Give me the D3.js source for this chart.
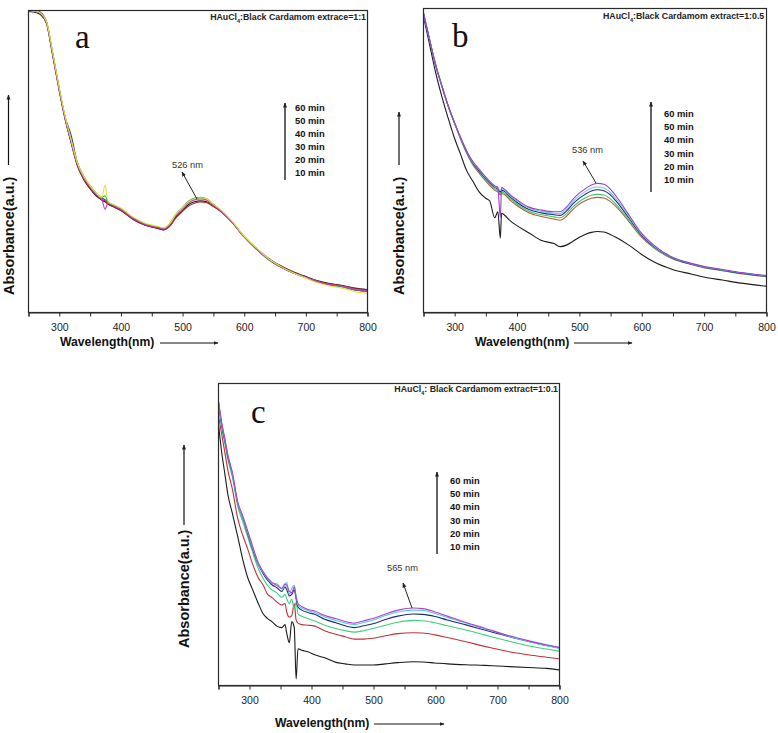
<!DOCTYPE html>
<html><head><meta charset="utf-8">
<script src="https://cdn.jsdelivr.net/npm/d3@7"></script>
<style>body{margin:0;background:#fff}svg{display:block}</style>
</head><body>
<svg id="fig" width="778" height="733"></svg>
<script>
// ---------------- DATA ----------------
const timeLabels = ["60 min","50 min","40 min","30 min","20 min","10 min"];
const xTickValues = [250,300,350,400,450,500,550,600,650,700,750,800];
const xTickLabels = [300,400,500,600,700,800];

// Panel a : HAuCl4 : extract = 1:1
const wlA = [250,265,270,280,290,300,310,320,330,340,350,360,370,375,380,390,400,420,440,460,470,480,490,500,510,520,530,540,550,560,580,600,620,640,660,680,700,720,740,760,780,800];
const a10 = [0.995,0.99,0.985,0.955,0.85,0.74,0.64,0.56,0.485,0.44,0.41,0.385,0.37,0.365,0.357,0.347,0.337,0.307,0.287,0.277,0.272,0.285,0.315,0.335,0.355,0.365,0.368,0.365,0.352,0.338,0.30,0.252,0.212,0.178,0.153,0.133,0.118,0.103,0.094,0.088,0.079,0.074];
const a20 = [1.00,0.995,0.99,0.958,0.852,0.742,0.642,0.562,0.487,0.443,0.412,0.388,0.372,0.368,0.358,0.348,0.338,0.308,0.288,0.278,0.272,0.284,0.312,0.332,0.35,0.36,0.364,0.362,0.35,0.337,0.299,0.25,0.21,0.176,0.152,0.132,0.117,0.102,0.093,0.087,0.078,0.073];
const a30 = [1.00,0.998,0.993,0.962,0.858,0.748,0.648,0.585,0.495,0.447,0.417,0.392,0.377,0.372,0.362,0.352,0.342,0.312,0.291,0.281,0.276,0.292,0.322,0.343,0.363,0.374,0.377,0.373,0.357,0.341,0.30,0.25,0.209,0.174,0.149,0.129,0.114,0.099,0.089,0.083,0.073,0.068];
const a40 = [1.00,0.995,0.99,0.96,0.856,0.746,0.646,0.567,0.495,0.452,0.42,0.395,0.38,0.385,0.362,0.352,0.342,0.312,0.292,0.282,0.277,0.293,0.324,0.345,0.366,0.377,0.38,0.375,0.358,0.342,0.301,0.251,0.21,0.175,0.15,0.13,0.115,0.10,0.09,0.084,0.074,0.069];
const a50 = [1.00,0.995,0.99,0.96,0.855,0.745,0.645,0.565,0.49,0.445,0.416,0.392,0.372,0.34,0.362,0.351,0.341,0.311,0.29,0.28,0.275,0.29,0.32,0.341,0.361,0.371,0.374,0.37,0.355,0.34,0.30,0.25,0.21,0.175,0.15,0.13,0.115,0.10,0.09,0.085,0.075,0.07];
const a60 = [1.00,0.995,0.99,0.962,0.86,0.75,0.65,0.57,0.495,0.45,0.42,0.395,0.38,0.42,0.365,0.355,0.345,0.315,0.294,0.284,0.279,0.293,0.323,0.344,0.364,0.375,0.378,0.374,0.358,0.343,0.303,0.253,0.213,0.177,0.151,0.13,0.113,0.097,0.086,0.079,0.068,0.062];

// Panel b : extract = 1:0.5
const wlB = [250,260,270,280,290,300,310,320,330,340,350,357,365,370,374,376,380,390,400,420,440,460,470,480,490,500,510,520,530,540,550,560,580,600,620,650,680,700,730,760,800];
const b10 = [0.98,0.885,0.79,0.71,0.64,0.575,0.52,0.465,0.43,0.395,0.375,0.365,0.31,0.33,0.243,0.325,0.32,0.30,0.285,0.26,0.235,0.225,0.215,0.22,0.232,0.245,0.255,0.262,0.265,0.263,0.255,0.245,0.22,0.19,0.165,0.14,0.125,0.115,0.105,0.095,0.085];
const b20 = [0.99,0.90,0.815,0.745,0.68,0.625,0.57,0.522,0.484,0.457,0.432,0.416,0.40,0.395,0.385,0.39,0.387,0.367,0.351,0.326,0.314,0.306,0.302,0.315,0.337,0.354,0.366,0.374,0.377,0.375,0.364,0.346,0.298,0.247,0.211,0.175,0.156,0.146,0.136,0.126,0.116];
const b30 = [0.99,0.90,0.815,0.745,0.68,0.625,0.572,0.525,0.487,0.46,0.436,0.42,0.405,0.40,0.39,0.395,0.392,0.372,0.356,0.331,0.32,0.313,0.31,0.323,0.345,0.362,0.375,0.384,0.387,0.385,0.373,0.353,0.303,0.25,0.213,0.176,0.157,0.147,0.137,0.127,0.117];
const b40 = [0.99,0.90,0.815,0.745,0.68,0.625,0.574,0.528,0.49,0.464,0.44,0.425,0.41,0.405,0.395,0.40,0.398,0.378,0.362,0.337,0.326,0.32,0.318,0.332,0.355,0.373,0.387,0.398,0.402,0.399,0.386,0.364,0.31,0.254,0.216,0.178,0.158,0.148,0.138,0.128,0.118];
const b50 = [0.99,0.90,0.815,0.745,0.68,0.625,0.575,0.53,0.493,0.468,0.443,0.428,0.413,0.408,0.40,0.405,0.402,0.382,0.367,0.342,0.331,0.325,0.324,0.338,0.362,0.381,0.396,0.407,0.411,0.408,0.394,0.371,0.315,0.257,0.218,0.179,0.159,0.149,0.139,0.129,0.119];
const b60 = [0.99,0.90,0.815,0.745,0.68,0.625,0.575,0.53,0.495,0.47,0.445,0.43,0.415,0.41,0.31,0.41,0.405,0.385,0.37,0.345,0.335,0.33,0.33,0.345,0.37,0.39,0.405,0.418,0.423,0.42,0.405,0.38,0.32,0.26,0.22,0.18,0.16,0.15,0.14,0.13,0.12];

// Panel c : extract = 1:0.1
const wlC = [250,256,261,266,273,282,290,298,305,315,323,330,337,345,353,358,361,365,369,373,376,379,385,395,406,422,440,455,470,485,500,520,540,565,580,600,620,650,680,700,720,750,780,800];
const c10 = [0.88,0.77,0.70,0.63,0.57,0.49,0.415,0.355,0.32,0.27,0.235,0.22,0.21,0.195,0.19,0.2,0.17,0.14,0.21,0.19,0.02,0.12,0.115,0.11,0.1,0.09,0.075,0.07,0.066,0.066,0.066,0.07,0.074,0.077,0.076,0.073,0.07,0.067,0.065,0.063,0.061,0.058,0.055,0.05];
const c20 = [0.90,0.83,0.77,0.71,0.65,0.55,0.495,0.45,0.405,0.355,0.33,0.30,0.29,0.275,0.265,0.27,0.24,0.225,0.23,0.27,0.215,0.205,0.20,0.198,0.195,0.18,0.168,0.16,0.152,0.152,0.155,0.163,0.17,0.173,0.172,0.166,0.157,0.143,0.128,0.119,0.11,0.10,0.092,0.087];
const c30 = [0.94,0.85,0.80,0.745,0.69,0.59,0.54,0.49,0.445,0.385,0.352,0.33,0.315,0.305,0.29,0.30,0.285,0.27,0.285,0.25,0.275,0.235,0.228,0.22,0.212,0.198,0.187,0.18,0.175,0.18,0.187,0.198,0.208,0.214,0.213,0.206,0.196,0.182,0.166,0.155,0.145,0.13,0.119,0.112];
const c40 = [0.95,0.86,0.81,0.755,0.70,0.60,0.553,0.50,0.455,0.398,0.368,0.347,0.332,0.322,0.31,0.325,0.315,0.295,0.30,0.315,0.285,0.258,0.248,0.24,0.234,0.218,0.206,0.196,0.19,0.196,0.203,0.217,0.228,0.235,0.234,0.227,0.215,0.199,0.182,0.171,0.16,0.145,0.131,0.123];
const c50 = [0.95,0.865,0.815,0.76,0.70,0.60,0.555,0.505,0.46,0.40,0.372,0.352,0.338,0.335,0.318,0.33,0.34,0.30,0.32,0.33,0.295,0.265,0.255,0.247,0.24,0.225,0.214,0.205,0.2,0.207,0.215,0.23,0.242,0.248,0.247,0.237,0.224,0.205,0.186,0.174,0.161,0.145,0.13,0.122];
const c60 = [0.95,0.87,0.815,0.76,0.705,0.605,0.56,0.51,0.465,0.405,0.375,0.355,0.34,0.33,0.32,0.335,0.33,0.31,0.305,0.325,0.29,0.27,0.26,0.25,0.245,0.23,0.22,0.21,0.205,0.213,0.22,0.235,0.248,0.255,0.253,0.242,0.228,0.207,0.188,0.175,0.163,0.147,0.133,0.125];

// ---------------- LAYOUT ----------------
const SANS = "'Liberation Sans', Arial, Helvetica, sans-serif";
const SERIF = "'Liberation Serif', 'Times New Roman', serif";

const panels = [
  { key:"a", wl:wlA, series:[a10,a20,a30,a40,a50,a60],
    colors:["#1e1e1e","#b3262b","#2a3a8f","#2fae4f","#c23cc0","#e6e23a"],
    box:{x0:28,x1:367,y0:10,y1:312},
    titleMain:"HAuCl", titleRest:":Black Cardamom extrace=1:1", titleX:366, titleY:20, titleAnchor:"end",
    letterX:75, letterY:48,
    leg:{ax:285, top:103, bottom:180, tx:295, y0:111, dy:13},
    ann:{text:"526 nm", x:172, y:168, tip:[182,172], tail:[197,199]},
    ylab:{x:13.5, y:295, ax:8.5, a0:165, a1:95},
    xlab:{x:60, y:346, a0:160, a1:218, ay:343},
    tickLabY:330 },
  { key:"b", wl:wlB, series:[b10,b20,b30,b40,b50,b60],
    colors:["#1a1a1a","#b0603a","#4cbf6e","#1d2b6b","#73c7e3","#9a40c4"],
    box:{x0:423,x1:766,y0:8,y1:312},
    titleMain:"HAuCl", titleRest:":Black Cardamom extract=1:0.5", titleX:603, titleY:19, titleAnchor:"start",
    letterX:452, letterY:47,
    leg:{ax:651, top:102, bottom:192, tx:664, y0:117, dy:13.2},
    ann:{text:"536 nm", x:572, y:153, tip:[583,161], tail:[596,183]},
    ylab:{x:404, y:295, ax:399, a0:165, a1:112},
    xlab:{x:475, y:346, a0:574, a1:632, ay:343},
    tickLabY:330 },
  { key:"c", wl:wlC, series:[c10,c20,c30,c40,c50,c60],
    colors:["#1a1a1a","#c0323a","#3fcf7f","#1e2a78","#4fd3d6","#b33fd0"],
    box:{x0:218,x1:559,y0:383,y1:685},
    titleMain:"HAuCl", titleRest:": Black Cardamom extract=1:0.1", titleX:558, titleY:392, titleAnchor:"end",
    letterX:251, letterY:423,
    leg:{ax:437, top:472, bottom:554, tx:450, y0:484, dy:13.2},
    ann:{text:"565 nm", x:387, y:571, tip:[403,583], tail:[412,608]},
    ylab:{x:189, y:648, ax:184, a0:525, a1:445},
    xlab:{x:275, y:727, a0:374, a1:444, ay:724},
    tickLabY:703 }
];

// ---------------- DRAW ----------------
const svg = d3.select("#fig");
svg.append("rect").attr("width",778).attr("height",733).attr("fill","#fff");
const defs = svg.append("defs");
defs.append("marker").attr("id","ahs").attr("viewBox","0 0 10 10")
  .attr("refX",9).attr("refY",5).attr("markerWidth",5).attr("markerHeight",5)
  .attr("markerUnits","userSpaceOnUse").attr("orient","auto")
  .append("path").attr("d","M0,1 L10,5 L0,9 Z").attr("fill","#222");

panels.forEach(p => {
  const g = svg.append("g");
  const x = d3.scaleLinear().domain([250,800]).range([p.box.x0, p.box.x1]);
  const y = d3.scaleLinear().domain([0,1]).range([p.box.y1, p.box.y0]);

  const clipId = "clip-" + p.key;
  defs.append("clipPath").attr("id", clipId).append("rect")
    .attr("x", p.box.x0).attr("y", p.box.y0)
    .attr("width", p.box.x1 - p.box.x0).attr("height", p.box.y1 - p.box.y0);

  // curves
  const line = d3.line().x(d => x(d[0])).y(d => y(d[1])).curve(d3.curveMonotoneX);
  const cg = g.append("g").attr("clip-path", `url(#${clipId})`);
  p.series.forEach((s, i) => {
    cg.append("path").datum(p.wl.map((w, k) => [w, s[k]]))
      .attr("d", line).attr("fill","none")
      .attr("stroke", p.colors[i]).attr("stroke-width", 1.1)
      .attr("stroke-linejoin","round");
  });

  // frame
  g.append("rect").attr("x", p.box.x0 + 0.5).attr("y", p.box.y0 + 0.5)
    .attr("width", p.box.x1 - p.box.x0).attr("height", p.box.y1 - p.box.y0)
    .attr("fill","none").attr("stroke","#2a2a2a").attr("stroke-width",1.2);

  // bottom axis
  const ax = d3.axisBottom(x).tickValues(xTickValues).tickSize(4)
    .tickFormat(d => xTickLabels.includes(d) ? String(d) : "");
  const axg = g.append("g").attr("transform", `translate(0.5,${p.box.y1 + 0.5})`).call(ax);
  axg.select(".domain").attr("stroke","#2a2a2a").attr("stroke-width",1.2);
  axg.selectAll(".tick line").attr("stroke","#2a2a2a").attr("stroke-width",1);
  axg.selectAll(".tick text").attr("y", p.tickLabY - p.box.y1).attr("dy", 0)
    .attr("font-family", SANS).attr("font-size", "10.5px").attr("fill","#222");

  // title with subscript
  const t = g.append("text").attr("x", p.titleX).attr("y", p.titleY)
    .attr("text-anchor", p.titleAnchor).attr("font-family", SANS)
    .attr("font-weight","bold").attr("font-size","8.8px").attr("fill","#222");
  if (p.key === "b") {
    defs.append("clipPath").attr("id","tclip-b").append("rect")
      .attr("x", 0).attr("y", 0).attr("width", p.box.x1 + 2).attr("height", 40);
    t.attr("clip-path","url(#tclip-b)");
  }
  t.append("tspan").text(p.titleMain);
  t.append("tspan").attr("font-size","5.5px").attr("dy", 2.5).text("4");
  t.append("tspan").attr("dy", -2.5).text(p.titleRest);

  // panel letter
  g.append("text").attr("x", p.letterX).attr("y", p.letterY)
    .attr("font-family", SERIF).attr("font-size","33px").attr("fill","#111")
    .text(p.key);

  // legend arrow and labels
  g.append("line").attr("x1", p.leg.ax).attr("x2", p.leg.ax)
    .attr("y1", p.leg.bottom).attr("y2", p.leg.top)
    .attr("stroke","#111").attr("stroke-width",1.3).attr("marker-end","url(#ahs)");
  g.selectAll(null).data(timeLabels).join("text")
    .attr("x", p.leg.tx).attr("y", (d, i) => p.leg.y0 + i * p.leg.dy)
    .attr("font-family", SANS).attr("font-weight","bold").attr("font-size","9.4px")
    .attr("fill","#111").text(d => d);

  // peak annotation
  g.append("text").attr("x", p.ann.x).attr("y", p.ann.y)
    .attr("font-family", SANS).attr("font-size","9.3px").attr("fill","#333")
    .text(p.ann.text);
  g.append("line").attr("x1", p.ann.tail[0]).attr("y1", p.ann.tail[1])
    .attr("x2", p.ann.tip[0]).attr("y2", p.ann.tip[1])
    .attr("stroke","#222").attr("stroke-width",1).attr("marker-end","url(#ahs)");

  // y label + arrow
  g.append("text").attr("transform", `translate(${p.ylab.x},${p.ylab.y}) rotate(-90)`)
    .attr("font-family", SANS).attr("font-weight","bold").attr("font-size","14.5px")
    .attr("fill","#111").text("Absorbance(a.u.)");
  g.append("line").attr("x1", p.ylab.ax).attr("x2", p.ylab.ax)
    .attr("y1", p.ylab.a0).attr("y2", p.ylab.a1)
    .attr("stroke","#111").attr("stroke-width",1.2).attr("marker-end","url(#ahs)");

  // x label + arrow
  g.append("text").attr("x", p.xlab.x).attr("y", p.xlab.y)
    .attr("font-family", SANS).attr("font-weight","bold").attr("font-size","12.2px")
    .attr("fill","#111").text("Wavelength(nm)");
  g.append("line").attr("x1", p.xlab.a0).attr("x2", p.xlab.a1)
    .attr("y1", p.xlab.ay).attr("y2", p.xlab.ay)
    .attr("stroke","#111").attr("stroke-width",1.2).attr("marker-end","url(#ahs)");
});
</script>
</body></html>
